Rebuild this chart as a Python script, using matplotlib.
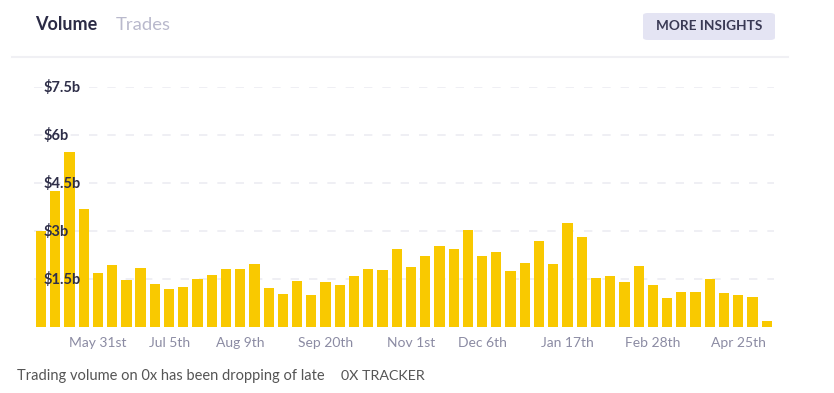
import matplotlib.pyplot as plt
import matplotlib.transforms as mtransforms
from matplotlib.patches import FancyBboxPatch

# weekly trading volume on 0x, in billions of USD
volume = [3.0, 4.24, 5.46, 3.69, 1.70, 1.93, 1.48, 1.85, 1.36, 1.19,
          1.25, 1.49, 1.64, 1.83, 1.80, 1.96, 1.23, 1.04, 1.45, 1.0,
          1.41, 1.31, 1.60, 1.81, 1.78, 2.45, 1.89, 2.21, 2.52, 2.45,
          3.04, 2.23, 2.36, 1.75, 2.0, 2.70, 1.98, 3.25, 2.83, 1.52,
          1.61, 1.41, 1.90, 1.32, 0.92, 1.09, 1.09, 1.5, 1.07, 0.99,
          0.95, 0.19]

tick_idx = [4, 9, 14, 20, 26, 31, 37, 43, 49]
tick_labels = ['May 31st', 'Jul 5th', 'Aug 9th', 'Sep 20th', 'Nov 1st',
               'Dec 6th', 'Jan 17th', 'Feb 28th', 'Apr 25th']

y_ticks = [1.5, 3, 4.5, 6, 7.5]
y_labels = ['$1.5b', '$3b', '$4.5b', '$6b', '$7.5b']

plt.rcParams['font.family'] = ['Lato', 'DejaVu Sans']

W, H = 834, 393
fig = plt.figure(figsize=(W / 100, H / 100), dpi=100)
fig.patch.set_facecolor('white')

# axes placed in pixel coordinates
left, right, top, bottom = 33.9, 773.8, 87.3, 327.0
ax = fig.add_axes([left / W, 1 - bottom / H, (right - left) / W, (bottom - top) / H])

x = list(range(len(volume)))
ax.bar(x, volume, width=0.72, color='#f9c900', zorder=2)

ax.set_xlim(-0.5, len(volume) - 0.5)
ax.set_ylim(0, 7.5)

# dashed gridlines
for v in y_ticks:
    ax.axhline(v, color='#ececf2', linestyle=(0, (5, 6)), linewidth=1.2, zorder=0)

# y labels drawn on top of the bars
trans = mtransforms.blended_transform_factory(ax.transAxes, ax.transData)
for v, lab in zip(y_ticks, y_labels):
    ax.text(10 / (right - left), v, lab, transform=trans, ha='left', va='center',
            fontsize=10.5, fontweight='bold', color='#2e2e48', zorder=5)

ax.set_yticks([])
ax.set_xticks(tick_idx)
ax.set_xticklabels(tick_labels, fontsize=10, color='#8b8ba3')
ax.tick_params(axis='x', length=0, pad=7)
for s in ax.spines.values():
    s.set_visible(False)

# header
fig.text(35 / W, 1 - 25 / H, 'Volume', fontsize=13, fontweight='bold',
         color='#2b2b45', va='center', ha='left')
fig.text(116 / W, 1 - 25 / H, 'Trades', fontsize=13.3, color='#b9b9cc',
         va='center', ha='left')

btn = FancyBboxPatch((643 / W, 1 - 40 / H), 132 / W, 27 / H,
                     boxstyle='round,pad=0,rounding_size=0.006',
                     transform=fig.transFigure, facecolor='#e4e4f3',
                     edgecolor='none')
fig.patches.append(btn)
fig.text(709 / W, 1 - 26.5 / H, 'MORE INSIGHTS', fontsize=9.8, fontweight='bold',
         color='#3a3a55', ha='center', va='center')

fig.add_artist(plt.Line2D([12 / W, 788 / W], [1 - 57 / H, 1 - 57 / H],
                          transform=fig.transFigure, color='#f0f0f4', linewidth=1.5))

# caption
fig.text(17 / W, 1 - 376 / H, 'Trading volume on 0x has been dropping of late',
         fontsize=10.5, color='#555555', ha='left', va='center')
fig.text(341 / W, 1 - 376 / H, '0X TRACKER', fontsize=10.3, color='#555555',
         ha='left', va='center')

fig.savefig('out.png', dpi=100, facecolor='white')
